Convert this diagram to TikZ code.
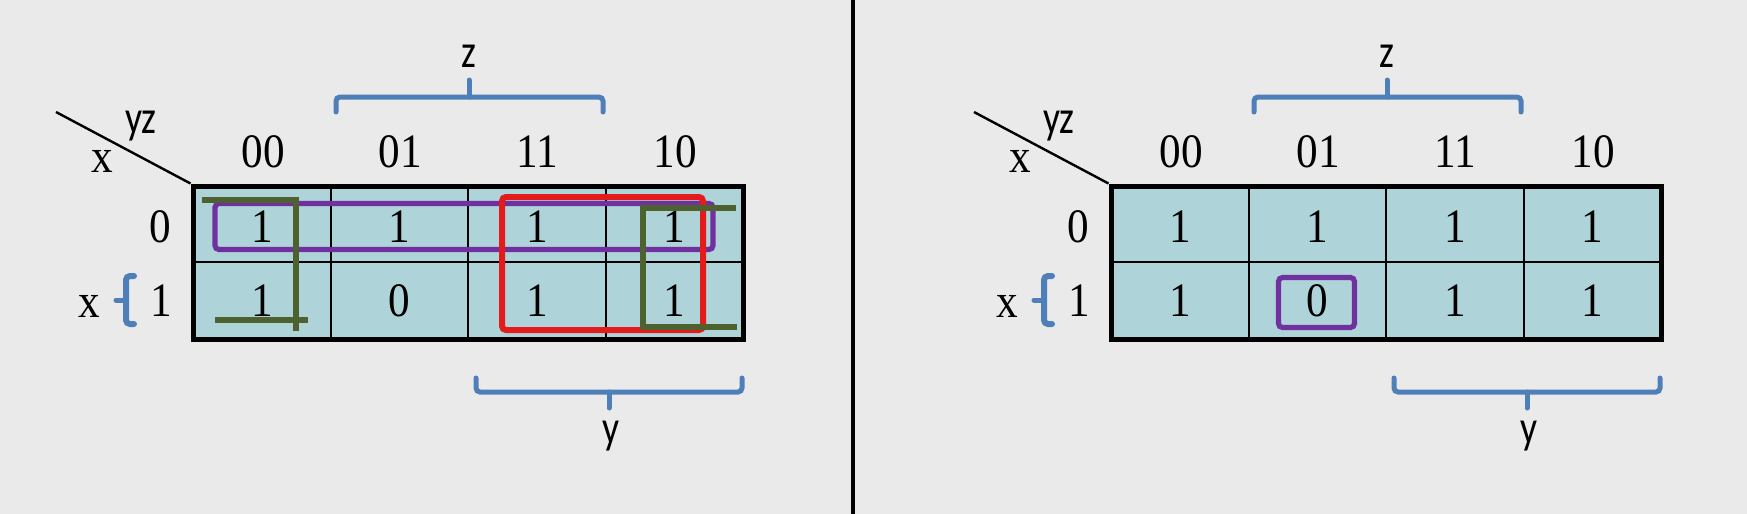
\documentclass[tikz,border=0pt]{standalone}
\usepackage{fontspec}
\newfontfamily\serifk{Liberation Serif}[FakeStretch=0.9]
\newfontfamily\sansk{Carlito}[FakeStretch=0.8]
\definecolor{bgc}{HTML}{EAEAEA}
\definecolor{cellc}{HTML}{AED3D9}
\definecolor{bracec}{HTML}{4F7FB8}
\definecolor{purplec}{HTML}{7030A0}
\definecolor{redc}{HTML}{E31B1B}
\definecolor{greenc}{HTML}{4E6230}
\tikzset{
  num/.style={font=\serifk\fontsize{24}{24}\selectfont, inner sep=0pt, anchor=base},
  lab/.style={font=\sansk\fontsize{23.5}{24}\selectfont, inner sep=0pt, anchor=base},
  bracepath/.style={draw=bracec, line width=2.5pt, rounded corners=2pt, line cap=round},
  kgrid/.style={draw=black, line width=2.5pt, fill=cellc, minimum width=275pt, minimum height=76.5pt, inner sep=0pt},
  cellline/.style={draw=black, line width=1pt},
  loopp/.style={draw=purplec, line width=2.6pt, rounded corners=2pt},
  loopr/.style={draw=redc, line width=3pt, rounded corners=2pt},
  loopg/.style={draw=greenc, line width=3pt},
}
\newcommand\kmap[3]{%
\begin{scope}[shift={(#2,0)}]
  \node[kgrid] (#1g) at (468,262.5) {};
  \draw[cellline] (193,262) -- (743,262);
  \draw[cellline] (330.5,186) -- (330.5,339);
  \draw[cellline] (468,186) -- (468,339);
  \draw[cellline] (605.5,186) -- (605.5,339);
  \coordinate (#1d) at (56,112);
  \draw[line width=1.2pt] (#1d) -- (#1g.north west);
  \node[lab] (#1yz) at (141,133) {yz};
  \node[num] (#1xc) at (102,172) {x};
  \node[num] (#1h0) at (263,167) {00};
  \node[num] (#1h1) at (400,167) {01};
  \node[num] (#1h2) at (537,167) {11};
  \node[num] (#1h3) at (675,167) {10};
  \node[num] (#1r0) at (160,242) {0};
  \node[num] (#1r1) at (161,316) {1};
  \node[num] (#1xr) at (89,317) {x};
  \node[num] (#1c00) at (262,242) {1};
  \node[num] (#1c01) at (399.5,242) {1};
  \node[num] (#1c02) at (537,242) {1};
  \node[num] (#1c03) at (674.5,242) {1};
  \node[num] (#1c10) at (262,316) {1};
  \node[num] (#1c11) at (399.5,316) {#3};
  \node[num] (#1c12) at (537,316) {1};
  \node[num] (#1c13) at (674.5,316) {1};
  % z brace
  \draw[bracepath] (336,112) -- (336,97) -- (603,97) -- (603,112);
  \draw[bracepath, rounded corners=0pt] (469,97) -- (469,80);
  \node[lab] (#1z) at (469,68) {z};
  % y brace
  \draw[bracepath] (476,378) -- (476,392) -- (742,392) -- (742,378);
  \draw[bracepath, rounded corners=0pt] (609,392) -- (609,408);
  \node[lab] (#1y) at (611,443) {y};
  % x brace
  \draw[bracepath, line width=3pt] (134,276) -- (126,276) -- (126,324) -- (134,324);
  \draw[bracepath, rounded corners=0pt] (126,300) -- (116,300);
\end{scope}}
\begin{document}
\begin{tikzpicture}[x=0.5pt,y=-0.5pt]
\useasboundingbox (0,0) rectangle (1747,514);
\fill[bgc] (0,0) rectangle (1747,514);
\kmap{L}{0}{0}
\kmap{R}{918}{0}
% divider
\draw[line width=2pt] (853,0) -- (853,514);
% left map loops
\draw[loopp] (215,203.5) rectangle (713,249.5);
\draw[loopr] (502,197) rectangle (703,330);
\draw[loopg] (202,199.5) -- (293,199.5);
\draw[loopg] (296,197) -- (296,331);
\draw[loopg] (215,320) -- (308,320);
\draw[loopg] (641,208) -- (736,208);
\draw[loopg] (643,205) -- (643,329);
\draw[loopg] (641,327) -- (737,327);
% right map loop
\draw[loopp] (1278.5,277.5) rectangle (1354.5,327.5);
\end{tikzpicture}
\end{document}
